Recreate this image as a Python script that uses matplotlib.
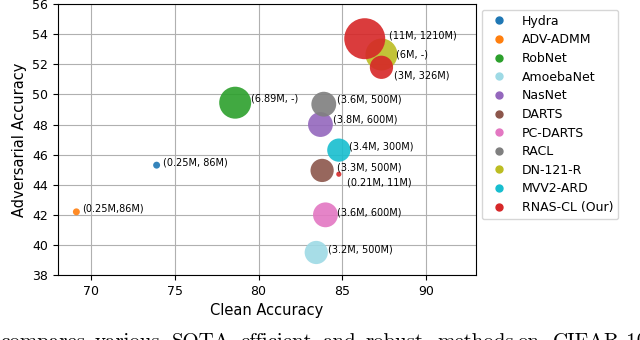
import matplotlib.pyplot as plt
from matplotlib.lines import Line2D

methods = ['Hydra', 'ADV-ADMM', 'RobNet', 'AmoebaNet', 'NasNet', 'DARTS',
           'PC-DARTS', 'RACL', 'DN-121-R', 'MVV2-ARD', 'RNAS-CL (Our)']
colors = ['#1f77b4', '#ff7f0e', '#2ca02c', '#9edae5', '#9467bd', '#8c564b',
          '#e377c2', '#7f7f7f', '#bcbd22', '#17becf', '#d62728']

# one entry per point: method index, clean acc, adversarial acc, marker size, label
pt_method = [0, 1, 2, 3, 4, 5, 6, 7, 8, 9, 10, 10, 10]
clean = [73.9, 69.1, 78.6, 83.45, 83.7, 83.8, 84.0, 83.9, 87.35, 84.8, 86.35, 87.35, 84.8]
adv = [45.3, 42.2, 49.45, 39.5, 48.0, 44.95, 42.0, 49.35, 52.65, 46.3, 53.7, 51.8, 44.7]
sizes = [25, 25, 530, 280, 320, 280, 320, 320, 530, 280, 870, 280, 14]
labels = ['(0.25M, 86M)', '(0.25M,86M)', '(6.89M, -)', '(3.2M, 500M)', '(3.8M, 600M)',
          '(3.3M, 500M)', '(3.6M, 600M)', '(3.6M, 500M)', '(6M, -)', '(3.4M, 300M)',
          '(11M, 1210M)', '(3M, 326M)', '(0.21M, 11M)']
label_x = [74.26, 69.42, 79.56, 84.18, 84.48, 84.68, 84.70, 84.70, 88.25, 85.38, 87.81, 88.11, 85.30]
label_y = [45.51, 42.41, 49.74, 39.71, 48.30, 45.15, 42.17, 49.63, 52.66, 46.57, 53.94, 51.24, 44.18]

# caption line under the figure (justified text, cut off at the bottom)
caption_words = ['compares', 'various', 'SOTA', 'efficient', 'and', 'robust',
                 'methods', 'on', 'CIFAR-10']
caption_x = [0, 95, 172, 240, 322, 365, 437, 517, 553]

fig = plt.figure(figsize=(6.4, 3.4), dpi=100)
ax = fig.add_axes([0.0906, 0.191, 0.653, 0.797])

for i in range(len(clean)):
    ax.scatter(clean[i], adv[i], s=sizes[i], color=colors[pt_method[i]], alpha=0.9,
               edgecolors='none', zorder=3)
    ax.text(label_x[i], label_y[i], labels[i], fontsize=7, va='center', ha='left', zorder=4)

ax.set_xlim(68, 93)
ax.set_ylim(38, 56)
ax.set_xticks([70, 75, 80, 85, 90])
ax.set_yticks(range(38, 57, 2))
ax.tick_params(labelsize=9)
ax.grid(True, color='#b0b0b0', linewidth=0.8, zorder=0)
ax.set_axisbelow(True)
ax.set_xlabel('Clean Accuracy', fontsize=10.5)
ax.set_ylabel('Adversarial Accuracy', fontsize=10.5)

handles = [Line2D([], [], marker='o', linestyle='none', color=c, markersize=5) for c in colors]
fig.legend(handles, methods, loc='upper left', bbox_to_anchor=(0.753, 0.971),
           bbox_transform=fig.transFigure, borderaxespad=0, fontsize=9, labelspacing=0.45)

for w, x in zip(caption_words, caption_x):
    fig.text(x / 640, -0.021, w, family='cmr10', fontsize=15, va='baseline', ha='left')

fig.savefig('out.png', dpi=100)
